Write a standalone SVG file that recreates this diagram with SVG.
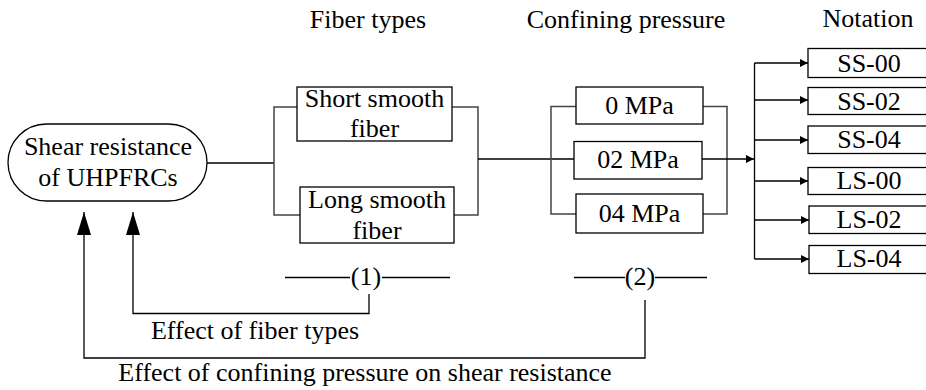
<svg xmlns="http://www.w3.org/2000/svg" width="926" height="390" viewBox="0 0 926 390">
<style>
text{font-size:26px;fill:#000;text-anchor:middle}
.box{fill:#fff;stroke:#000;stroke-width:1.3}
.ln{fill:none;stroke:#000;stroke-width:1.3}
.br{fill:none;stroke:#444;stroke-width:1.5}
</style>
<defs>
<marker id="sa" markerUnits="userSpaceOnUse" markerWidth="10" markerHeight="8" refX="8" refY="4" orient="auto"><path d="M0,0 L8,4 L0,8 Z" fill="#000"/></marker>
<marker id="ba" markerUnits="userSpaceOnUse" markerWidth="24" markerHeight="14" refX="23" refY="7" orient="auto"><path d="M0,0 L23,7 L0,14 Z" fill="#000"/></marker>
</defs>
<g font-family="'Liberation Serif', 'Times New Roman', 'DejaVu Serif', serif">
<g id="titles">
<text x="368" y="28">Fiber types</text>
<text x="626" y="28">Confining pressure</text>
<text x="868" y="27">Notation</text>
</g>
<g id="connectors">
<path class="ln" d="M207,163 H274"/>
<path class="br" d="M297,107 H274 V215 H300"/>
<path class="br" d="M452,107 H478 V215 H454"/>
<path class="ln" d="M478,159 H574"/>
<path class="br" d="M576,106.5 H551 V214 H576"/>
<path class="br" d="M703,106.5 H727 V214 H703"/>
<path class="ln" d="M702,159 H754" marker-end="url(#sa)"/>
<path class="ln" d="M754.5,63 V259"/>
<path class="ln" d="M754.5,63 H808" marker-end="url(#sa)"/>
<path class="ln" d="M754.5,100 H808" marker-end="url(#sa)"/>
<path class="ln" d="M754.5,140 H808" marker-end="url(#sa)"/>
<path class="ln" d="M754.5,181 H808" marker-end="url(#sa)"/>
<path class="ln" d="M754.5,220 H809" marker-end="url(#sa)"/>
<path class="ln" d="M754.5,259 H809" marker-end="url(#sa)"/>
<path class="ln" d="M285,277.5 H350 M382,277.5 H450"/>
<path class="ln" d="M574,277.5 H625 M655,277.5 H707"/>
<path class="ln" d="M369,294 V313.5 H133 V212" marker-end="url(#ba)"/>
<path class="ln" d="M645,300 V358 H84 V212" marker-end="url(#ba)"/>
</g>
<g id="shear">
<rect class="box" x="8" y="124" width="199" height="77" rx="38.5" ry="38.5"/>
<text x="108" y="155">Shear resistance</text>
<text x="108" y="186">of UHPFRCs</text>
</g>
<g id="short">
<rect class="box" x="297" y="87" width="155" height="54"/>
<text x="374.5" y="107">Short smooth</text>
<text x="374.5" y="136.5">fiber</text>
</g>
<g id="long">
<rect class="box" x="300" y="187" width="154" height="56"/>
<text x="377" y="207.5">Long smooth</text>
<text x="377" y="238.5">fiber</text>
</g>
<g id="p0">
<rect class="box" x="576" y="87" width="127" height="37"/>
<text x="639.5" y="113.5">0 MPa</text>
</g>
<g id="p2">
<rect class="box" x="574" y="141.5" width="128" height="37.5"/>
<text x="638" y="167.5">02 MPa</text>
</g>
<g id="p4">
<rect class="box" x="576" y="194" width="127" height="39"/>
<text x="639.5" y="221.5">04 MPa</text>
</g>
<g id="ss00"><rect class="box" x="808" y="48.5" width="122" height="29"/><text x="869" y="71.5">SS-00</text></g>
<g id="ss02"><rect class="box" x="808" y="87.5" width="122" height="27"/><text x="869" y="110">SS-02</text></g>
<g id="ss04"><rect class="box" x="808" y="126" width="122" height="27.5"/><text x="869" y="148">SS-04</text></g>
<g id="ls00"><rect class="box" x="808" y="167.5" width="122" height="27"/><text x="869" y="188.5">LS-00</text></g>
<g id="ls02"><rect class="box" x="809" y="206" width="122" height="27.5"/><text x="869" y="228">LS-02</text></g>
<g id="ls04"><rect class="box" x="809" y="245.5" width="122" height="28"/><text x="869" y="267">LS-04</text></g>
<g id="labels">
<text x="366" y="284.5">(1)</text>
<text x="640" y="284.5">(2)</text>
<text x="255" y="339">Effect of fiber types</text>
<text x="365" y="381">Effect of confining pressure on shear resistance</text>
</g>
</g>
</svg>
